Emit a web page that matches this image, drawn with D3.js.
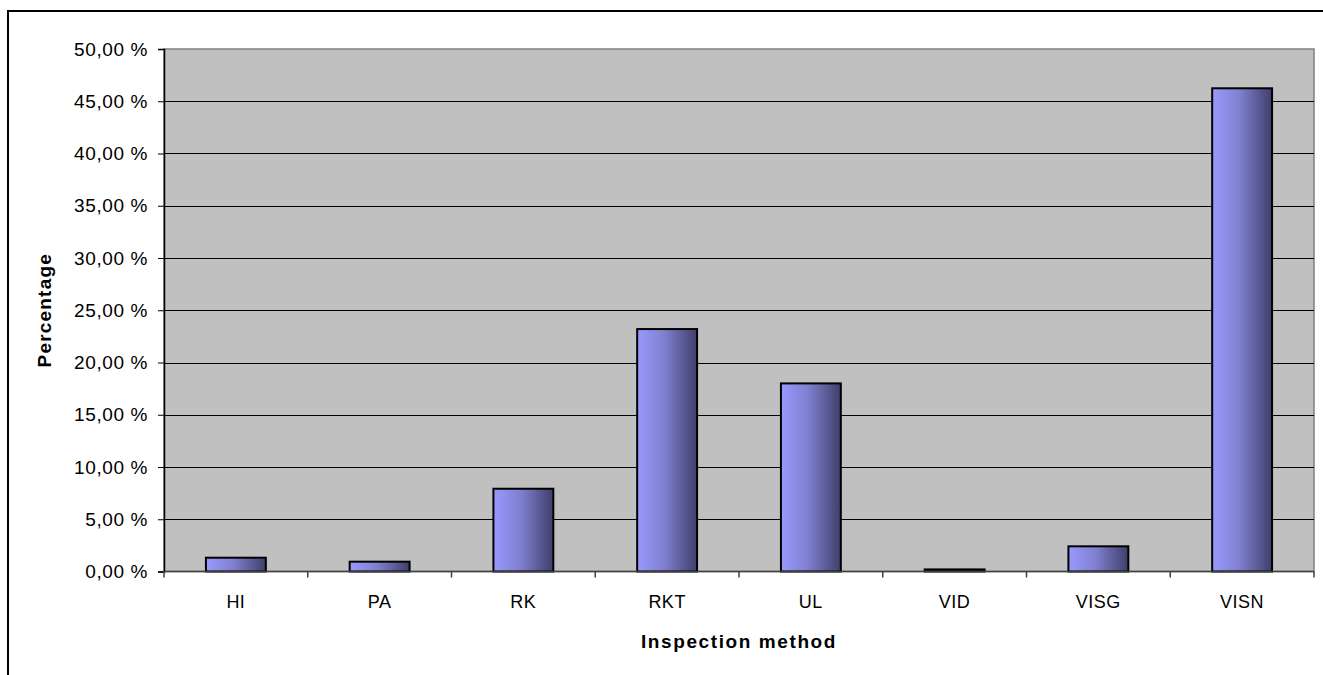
<!DOCTYPE html>
<html>
<head>
<meta charset="utf-8">
<script src="https://cdn.jsdelivr.net/npm/d3@7"></script>
<style>
  html, body { margin: 0; padding: 0; background: #fff; overflow: hidden; }
  svg { display: block; }
  text { font-family: "Liberation Sans", Arial, sans-serif; fill: #000; }
</style>
</head>
<body>
<svg id="chart" width="1323" height="675"></svg>
<script>
// Share of inspections per inspection method
const methods = ["HI", "PA", "RK", "RKT", "UL", "VID", "VISG", "VISN"];
const shares = [1.32, 0.94, 7.92, 23.2, 18.0, 0.2, 2.41, 46.24];
const yTicks = [0, 5, 10, 15, 20, 25, 30, 35, 40, 45, 50];
const xTitle = "Inspection method";
const yTitle = "Percentage";

const svg = d3.select("#chart");
const plot = { left: 164, top: 49, right: 1314, bottom: 571.5 };

// Outer chart frame (runs off the right and bottom of the page)
svg.append("rect")
  .attr("x", 8).attr("y", 11)
  .attr("width", 1340).attr("height", 700)
  .attr("fill", "#fff").attr("stroke", "#000").attr("stroke-width", 2);

const x = d3.scaleBand()
  .domain(methods)
  .range([plot.left, plot.right])
  .paddingInner(1.4 / 2.4)
  .paddingOuter(0.7 / 2.4);

const xBand = d3.scaleBand().domain(methods).range([plot.left, plot.right]);

const y = d3.scaleLinear().domain([0, 50]).range([plot.bottom, plot.top]);

// Plot background
svg.append("rect")
  .attr("x", plot.left).attr("y", plot.top)
  .attr("width", plot.right - plot.left).attr("height", plot.bottom - plot.top)
  .attr("fill", "#c0c0c0").attr("stroke", "#808080").attr("stroke-width", 1.5);

// Horizontal gridlines
svg.append("g")
  .selectAll("line")
  .data(yTicks.filter(t => t > 0 && t < 50))
  .join("line")
  .attr("x1", plot.left).attr("x2", plot.right)
  .attr("y1", d => Math.round(y(d)) + 0.5).attr("y2", d => Math.round(y(d)) + 0.5)
  .attr("stroke", "#000").attr("stroke-width", 1);

// Bar gradient
const defs = svg.append("defs");
const grad = defs.append("linearGradient")
  .attr("id", "barFill")
  .attr("x1", "0%").attr("x2", "100%").attr("y1", "0%").attr("y2", "0%");
grad.append("stop").attr("offset", "0%").attr("stop-color", "#9999ff");
grad.append("stop").attr("offset", "45%").attr("stop-color", "#8080d0");
grad.append("stop").attr("offset", "100%").attr("stop-color", "#3f3f6c");

// Bars
svg.append("g")
  .selectAll("rect")
  .data(methods.map((m, i) => ({ m, v: shares[i] })))
  .join("rect")
  .attr("x", d => x(d.m))
  .attr("y", d => y(d.v))
  .attr("width", x.bandwidth())
  .attr("height", d => y(0) - y(d.v))
  .attr("fill", "url(#barFill)")
  .attr("stroke", "#000").attr("stroke-width", 2);

// Y axis
const yAxis = d3.axisLeft(y)
  .tickValues(yTicks)
  .tickSize(6)
  .tickPadding(10)
  .tickFormat(d => d3.format(".2f")(d).replace(".", ",") + " %");
const gy = svg.append("g").attr("transform", `translate(${plot.left},0)`).call(yAxis);
gy.select(".domain").attr("stroke", "#000").attr("stroke-width", 1.5);
gy.selectAll(".tick line").attr("stroke", "#000");
gy.selectAll(".tick text")
  .style("font-size", "19px")
  .style("letter-spacing", "0.6px")
  .attr("fill", "#000");

// X axis: ticks at category boundaries, labels at band centres
const gx = svg.append("g").attr("transform", `translate(0,${plot.bottom})`);
gx.append("line")
  .attr("x1", plot.left).attr("x2", plot.right)
  .attr("y1", 0).attr("y2", 0)
  .attr("stroke", "#404040").attr("stroke-width", 1.5);
const bounds = methods.map(m => xBand(m)).concat([plot.right]);
gx.selectAll("line.tick")
  .data(bounds)
  .join("line")
  .attr("class", "tick")
  .attr("x1", d => d).attr("x2", d => d)
  .attr("y1", 0).attr("y2", 6)
  .attr("stroke", "#404040").attr("stroke-width", 1.5);
gx.selectAll("text")
  .data(methods)
  .join("text")
  .attr("x", d => xBand(d) + xBand.bandwidth() / 2)
  .attr("y", 36)
  .attr("text-anchor", "middle")
  .style("font-size", "18px")
  .style("letter-spacing", "0.5px")
  .text(d => d);

// Axis titles
svg.append("text")
  .attr("x", (plot.left + plot.right) / 2)
  .attr("y", 648)
  .attr("text-anchor", "middle")
  .style("font-size", "19px")
  .style("font-weight", "bold")
  .style("letter-spacing", "1.6px")
  .text(xTitle);

svg.append("text")
  .attr("transform", `translate(51,${(plot.top + plot.bottom) / 2}) rotate(-90)`)
  .attr("text-anchor", "middle")
  .style("font-size", "19px")
  .style("font-weight", "bold")
  .style("letter-spacing", "1.2px")
  .text(yTitle);
</script>
</body>
</html>
